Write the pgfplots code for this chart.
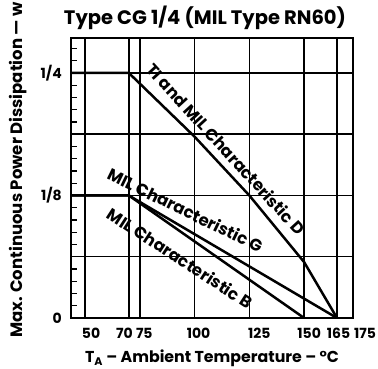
\documentclass[border=0pt]{standalone}
\usepackage{fontspec}
\setmainfont{Poppins}
\usepackage{pgfplots}
\pgfplotsset{compat=1.18}
\begin{document}
\begin{tikzpicture}
\begin{axis}[name=ax, scale only axis, width=282pt, height=280pt,
  xmin=43.6, xmax=172.3, ymin=0, ymax=0.2857,
  font=\fontsize{14}{17}\selectfont\bfseries,
  /pgf/number format/assume math mode=true,
  xtick={50,70,75,100,125,150,165},
  xticklabels={\hspace*{12pt}50,\hspace*{-9pt}70,\hspace*{9pt}75,\hspace*{8pt}100,\hspace*{20pt}125,\hspace*{10pt}150,\hspace*{3pt}165},
  ytick={0,0.0625,0.125,0.1875,0.25},
  yticklabels={0,,1/8,,1/4},
  minor ytick={0.0125,0.025,0.0375,0.05,0.075,0.0875,0.1,0.1125,0.1375,0.15,0.1625,0.175,0.2,0.2125,0.225,0.2375,0.2625,0.275},
  grid=major,
  grid style={line width=1.5pt, black},
  axis line style={line width=2pt},
  tick align=inside, tick pos=left,
  tick style={line width=1.2pt, black},
  major tick length=6pt, minor tick length=6pt,
  yticklabel style={inner sep=0pt, xshift=-9pt},
  xticklabel style={inner sep=0pt, yshift=-10pt},
]
% curve labels
\node[inner sep=1.5pt, rotate=-47.5, font=\fontsize{16.5}{18}\selectfont\bfseries] at (axis cs:114.4,0.1725) {TI and MIL Characteristic D};
\node[inner sep=1.5pt, rotate=-26, font=\fontsize{16.5}{18}\selectfont\bfseries] at (axis cs:95.8,0.110) {MIL Characteristic G};
\node[inner sep=1.5pt, rotate=-33, font=\fontsize{16.5}{18}\selectfont\bfseries] at (axis cs:93.4,0.061) {MIL Characteristic B};
% data
\addplot[black, line width=2.5pt] coordinates {(43.6,0.25) (70,0.25) (100,0.185) (125,0.125) (150,0.057) (165,0)};
\addplot[black, line width=2.5pt] coordinates {(43.6,0.125) (70,0.125) (165,0)};
\addplot[black, line width=2.5pt] coordinates {(43.6,0.125) (70,0.125) (150,0)};
\end{axis}
\node[anchor=north, inner sep=0pt, font=\fontsize{14}{17}\selectfont\bfseries] at ([yshift=-10pt,xshift=12pt]ax.south east) {175};
\node[anchor=base, font=\fontsize{15.8}{17}\selectfont\bfseries] at ([yshift=-45pt]ax.south) {T\textsubscript{A} -- Ambient Temperature -- °C};
\node[anchor=base, font=\fontsize{19.5}{21}\selectfont\bfseries] at ([yshift=13pt, xshift=-7pt]ax.north) {Type CG 1/4 (MIL Type RN60)};
\node[rotate=90, font=\fontsize{16.5}{18}\selectfont\bfseries] at ([xshift=-53pt, yshift=8pt]ax.west) {Max. Continuous Power Dissipation — w};
\pgfresetboundingbox
\path[use as bounding box] ([shift={(-71pt,-51pt)}]ax.south west) rectangle ([shift={(25pt,38pt)}]ax.north east);
\end{tikzpicture}
\end{document}
